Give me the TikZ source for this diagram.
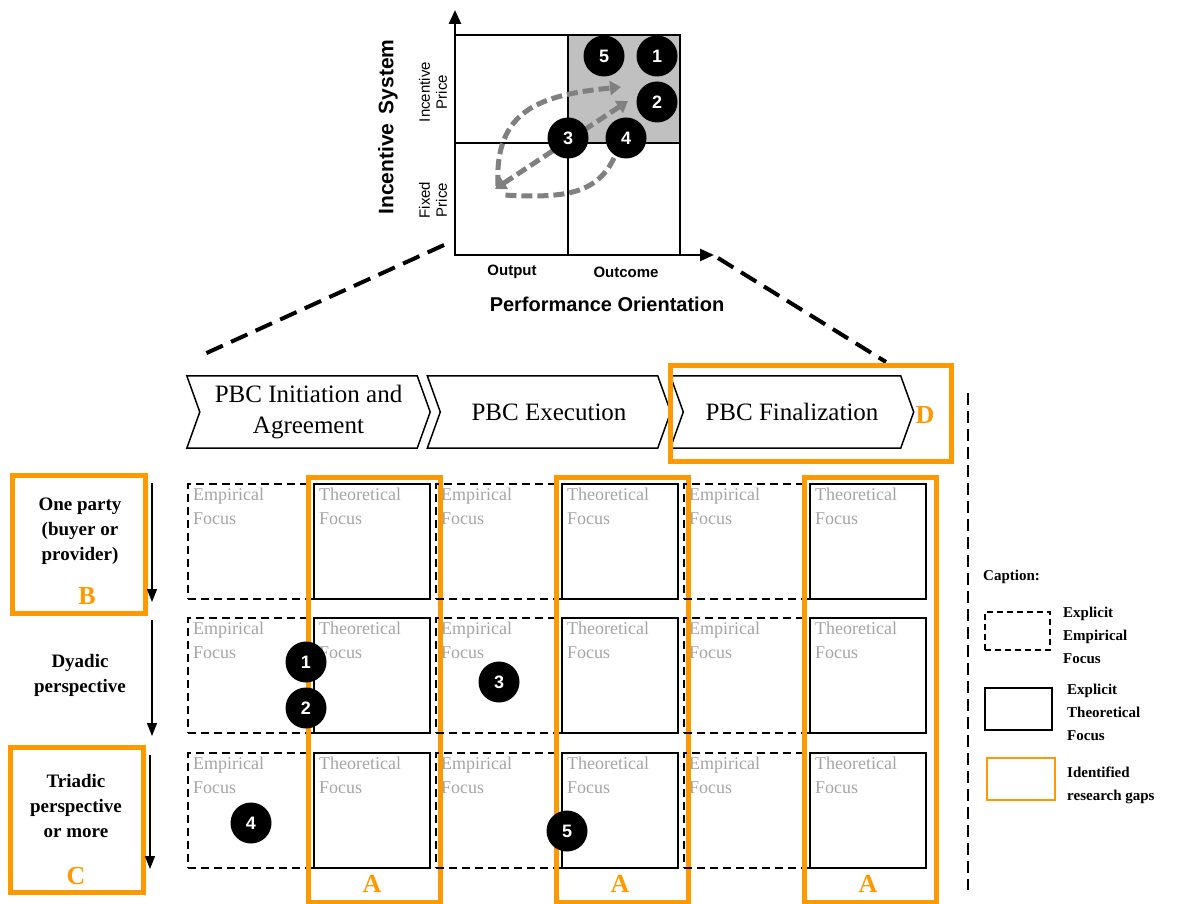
\documentclass[tikz,border=0pt]{standalone}
\usepackage{fontspec}
\setmainfont{Liberation Serif}
\setsansfont{Liberation Sans}
\usetikzlibrary{arrows.meta,positioning}

\definecolor{gaporange}{RGB}{255,153,0}
\definecolor{focusgray}{RGB}{165,165,165}
\definecolor{quadgray}{RGB}{192,192,192}
\definecolor{pathgray}{RGB}{128,128,128}

\begin{document}
\begin{tikzpicture}[
    x=1pt, y=-1pt,
    quad line/.style={
        draw=black,
        line width=1.2pt
    },
    axis arrow/.style={
        -{Triangle[length=14pt,width=12pt]},
        line width=2.5pt
    },
    move/.style={
        pathgray,
        line width=5pt,
        dash pattern=on 11pt off 5pt
    },
    zoom line/.style={
        line width=4pt,
        dash pattern=on 18pt off 9pt
    },
    num/.style={
        circle,
        fill=black,
        text=white,
        minimum size=41pt,
        inner sep=0pt,
        font=\sffamily\bfseries\fontsize{18}{18}\selectfont
    },
    phase box/.style={
        rectangle,
        minimum width=243pt,
        minimum height=72pt,
        inner sep=0pt,
        align=center,
        font=\fontsize{25}{31}\selectfont
    },
    phase line/.style={
        draw=black,
        line width=1.5pt
    },
    emp box/.style={
        draw=black,
        line width=2pt,
        dash pattern=on 8pt off 5pt,
        minimum width=126pt,
        minimum height=115pt,
        inner sep=0pt
    },
    theo box/.style={
        draw=black,
        line width=2pt,
        minimum width=116pt,
        minimum height=115pt,
        inner sep=0pt
    },
    focus/.style={
        text=focusgray,
        align=left,
        anchor=north west,
        inner sep=0pt,
        font=\fontsize{18}{24}\selectfont
    },
    gap box/.style={
        draw=gaporange,
        line width=5pt,
        inner sep=0pt
    },
    gap letter/.style={
        text=gaporange,
        inner sep=0pt,
        font=\bfseries\fontsize{26}{26}\selectfont
    },
    party/.style={
        align=center,
        inner sep=0pt,
        font=\bfseries\fontsize{19}{25}\selectfont
    },
    party arrow/.style={
        -{Triangle[length=13pt,width=10pt]},
        line width=1.2pt
    },
    legend/.style={
        align=left,
        anchor=west,
        inner sep=0pt,
        font=\bfseries\fontsize{15}{23}\selectfont
    }
]

\useasboundingbox (0,0) rectangle (1177,904);

\def\groupsep{248}
\def\rowsep{134.5}

%% --- Matrice incitation / performance ---
\fill[quadgray] (568,35) rectangle (680,143);
\draw[quad line] (455,35) rectangle (680,255);
\draw[quad line] (568,35) -- (568,255);
\draw[quad line] (455,143) -- (680,143);

\coordinate (O)    at (455,255);
\coordinate (Ytip) at (455,10);
\coordinate (Xtip) at (714,255);
\draw[axis arrow] (O) -- (Ytip);
\draw[axis arrow] (O) -- (Xtip);

%% --- Trajectoires ---
\coordinate (lowL)   at (495,189);
\coordinate (upR)    at (628,101);
\coordinate (upR2)   at (621,87);
\coordinate (startU) at (498,186);
\coordinate (startD) at (614,158);
\coordinate (endD)   at (503,195);
\draw[move, -{Triangle[length=11pt,width=14pt]}] (startU) .. controls (494,110) and (540,95) .. (upR2);
\draw[move, {Triangle[length=11pt,width=14pt]}-{Triangle[length=11pt,width=14pt]}] (lowL) -- (upR);
\draw[move] (startD) .. controls (596,196) and (560,198) .. (endD);

\node[num] (c5) at (604,56)  {5};
\node[num] (c1) at (657,56)  {1};
\node[num] (c2) at (657,102) {2};
\node[num] (c3) at (568,138) {3};
\node[num] (c4) at (626,138) {4};

%% --- Axes ---
\node[font=\sffamily\bfseries\fontsize{15}{15}\selectfont] (outL)  at (512,272) {Output};
\node[font=\sffamily\bfseries\fontsize{15}{15}\selectfont] (outcL) at (626,272) {Outcome};
\node[font=\sffamily\bfseries\fontsize{20}{20}\selectfont] (perfL) at (607,304) {Performance Orientation};
\node[rotate=90, font=\sffamily\bfseries\fontsize{21}{21}\selectfont] (incL) at (388,127) {Incentive\hspace{9pt}System};
\node[rotate=90, align=center, font=\sffamily\fontsize{15}{17}\selectfont] (ipL) at (433,92)  {Incentive\\Price};
\node[rotate=90, align=center, font=\sffamily\fontsize{15}{17}\selectfont] (fpL) at (433,200) {Fixed\\Price};

%% --- Zoom ---
\coordinate (zl1) at (444,245);
\coordinate (zl2) at (200,356);
\coordinate (zr1) at (718,258);
\coordinate (zr2) at (886,362);
\draw[zoom line] (zl1) -- (zl2);
\draw[zoom line] (zr1) -- (zr2);

%% --- Phases ---
\node[phase box] (P1) at (308.5,412) {PBC Initiation and\\Agreement};
\node[phase box] (P2) at (549,412)   {PBC Execution};
\node[phase box] (P3) at (792,412)   {PBC Finalization};
\foreach \p in {P1,P2,P3}
    \draw[phase line] (\p.north west) -- ([xshift=-13pt]\p.north east) -- (\p.east)
        -- ([xshift=-13pt]\p.south east) -- (\p.south west) -- ([xshift=13pt]\p.west) -- cycle;

\node[gap box, minimum width=281pt, minimum height=96pt] (Dgap) at (810.5,413.5) {};
\node[gap letter] (D) at (925,415) {D};

\coordinate (vd1) at (968,393);
\coordinate (vd2) at (968,890);
\draw[line width=1.6pt, dash pattern=on 12pt off 6pt] (vd1) -- (vd2);

%% --- Grille ---
\foreach \g in {0,1,2} {
    \foreach \r in {0,1,2} {
        \node[emp box]  (E\g\r) at (251+\groupsep*\g, 541+\rowsep*\r) {};
        \node[theo box] (T\g\r) at (372+\groupsep*\g, 541+\rowsep*\r) {};
        \node[focus] (EL\g\r) at ([xshift=6pt,yshift=-5pt]E\g\r.north west) {Empirical\\Focus};
        \node[focus] (TL\g\r) at ([xshift=6pt,yshift=-5pt]T\g\r.north west) {Theoretical\\Focus};
    }
    \node[gap box, minimum width=132pt, minimum height=425pt] (A\g) at (374+\groupsep*\g, 689.5) {};
    \node[gap letter] (AL\g) at (372+\groupsep*\g, 884) {A};
}

\node[num] (g1) at (306,662) {1};
\node[num] (g2) at (306,708) {2};
\node[num] (g3) at (499,682) {3};
\node[num] (g4) at (251,823) {4};
\node[num] (g5) at (567,831) {5};

%% --- Perspectives ---
\node[gap box, minimum width=133pt, minimum height=138pt] (Bgap) at (78.5,544) {};
\node[party] (one) at (80,531) {One party\\(buyer or\\provider)};
\node[gap letter] (B) at (87,596) {B};

\node[party] (dyad) at (80,675) {Dyadic\\perspective};

\node[gap box, minimum width=133pt, minimum height=145pt] (Cgap) at (76.5,819.5) {};
\node[party] (tri) at (76,806) {Triadic\\perspective\\or more};
\node[gap letter] (C) at (76,876) {C};

\coordinate (a1s) at (152,483);
\coordinate (a1e) at (152,602);
\coordinate (a2s) at (152,620);
\coordinate (a2e) at (152,736);
\coordinate (a3s) at (150,755);
\coordinate (a3e) at (150,869);
\draw[party arrow] (a1s) -- (a1e);
\draw[party arrow] (a2s) -- (a2e);
\draw[party arrow] (a3s) -- (a3e);

%% --- Légende ---
\node[legend] (cap) at (983,577) {Caption:};
\node[draw, line width=1.6pt, dash pattern=on 6pt off 4pt, minimum width=65pt, minimum height=38pt] (legE) at (1017.5,631) {};
\node[legend] (legEt) at (1063,635) {Explicit\\Empirical\\Focus};
\node[draw, line width=1.6pt, minimum width=67pt, minimum height=42pt] (legT) at (1018.5,709) {};
\node[legend] (legTt) at (1067,712) {Explicit\\Theoretical\\Focus};
\node[draw=gaporange, line width=2.5pt, minimum width=68pt, minimum height=42pt] (legG) at (1021,779) {};
\node[legend] (legGt) at (1067,785) {Identified\\research gaps};

\end{tikzpicture}
\end{document}
